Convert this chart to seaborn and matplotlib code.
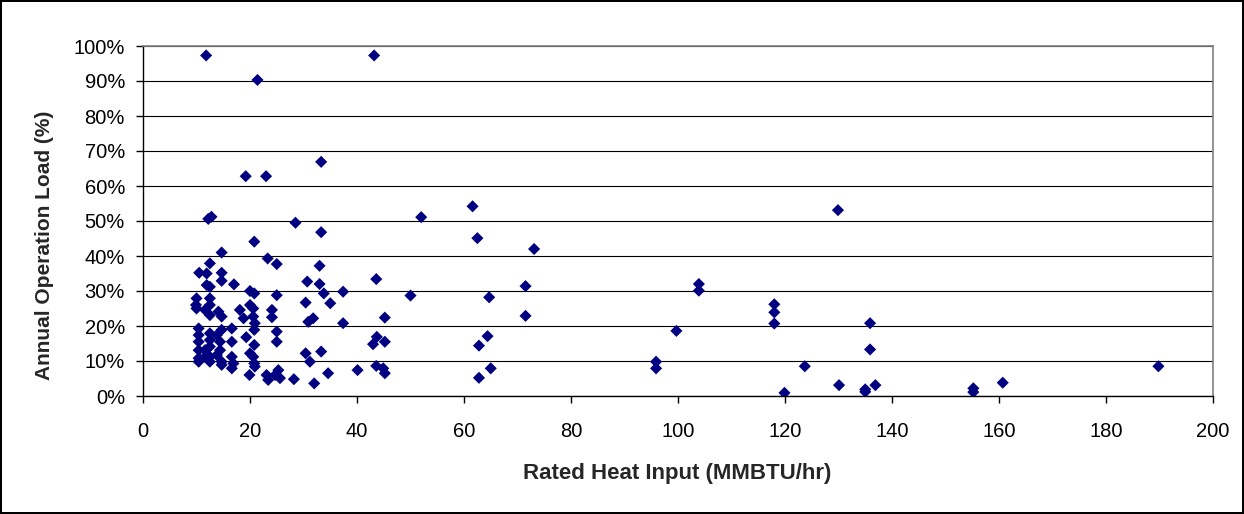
import pandas as pd
import seaborn as sns
import matplotlib.pyplot as plt
from matplotlib.ticker import PercentFormatter, MultipleLocator

# 额定热输入 (MMBTU/hr)
heat_input = [
    11.8, 21.4, 43.2, 19.2, 23.0, 33.3,
    12.2, 12.8, 28.5, 33.3, 20.8, 14.7, 23.3, 25.0, 33.0, 12.5, 10.5, 11.9,
    14.7, 14.7, 17.0, 11.9, 12.5, 30.7, 33.0, 33.8, 37.4, 35.0, 30.4, 20.0,
    20.8, 25.0, 10.0, 9.9, 10.0, 12.5, 12.5, 11.6, 12.5, 14.1, 14.7, 18.1,
    18.8, 20.0, 20.6, 20.6, 20.9, 24.1, 24.1, 30.9, 31.8, 37.4,
    10.4, 10.4, 10.4, 10.4, 10.4, 10.4, 12.5, 12.5, 12.5, 12.5, 12.5, 11.6,
    11.6, 13.8, 14.7, 14.4, 14.4, 13.8, 14.7, 14.7, 16.6, 16.6, 16.6, 16.9,
    16.6, 19.3, 20.8, 20.8, 20.0, 20.6, 20.8, 20.9, 25.0, 25.0, 19.9, 23.1,
    23.4, 24.7, 25.3, 25.6, 28.2, 30.4, 31.2, 33.3, 32.0, 34.6,
    52.0, 43.6, 50.0, 45.2, 43.7, 43.0, 45.2, 43.6, 44.9, 45.2, 40.1,
    61.6, 62.5, 73.1, 64.7, 71.5, 71.5, 64.4, 62.8, 65.0, 62.8, 95.9, 95.9,
    99.7, 103.9, 103.9, 118.0, 118.0, 118.0, 119.9, 123.7, 130.1, 135.0,
    135.0, 136.9, 135.9, 135.9, 129.9, 155.2, 155.2, 160.7, 189.8,
]

# 年运行负荷 (%)
operation_load = [
    97.3, 90.3, 97.3, 62.8, 62.8, 66.9,
    50.6, 51.2, 49.5, 46.8, 44.1, 41.0, 39.3, 37.7, 37.2, 37.9, 35.2, 35.0,
    35.2, 32.9, 31.9, 31.7, 31.2, 32.7, 32.0, 29.3, 29.8, 26.5, 26.7, 30.0,
    29.3, 28.8, 27.9, 26.0, 25.0, 27.9, 26.0, 24.6, 23.1, 24.1, 22.7, 24.6,
    22.2, 26.0, 25.0, 22.7, 20.8, 24.6, 22.5, 21.2, 22.2, 20.8,
    19.3, 17.4, 15.5, 13.1, 10.8, 9.8, 17.9, 16.0, 14.1, 11.2, 9.8, 13.1,
    11.2, 17.4, 18.9, 15.5, 13.1, 11.7, 9.8, 8.9, 19.3, 15.5, 11.2, 9.3,
    7.9, 16.8, 18.9, 14.6, 12.2, 11.2, 9.3, 8.4, 18.4, 15.5, 6.0, 6.0,
    4.6, 6.0, 7.4, 5.1, 4.8, 12.2, 9.8, 12.7, 3.6, 6.5,
    51.1, 33.4, 28.7, 22.4, 16.9, 14.8, 15.5, 8.6, 7.9, 6.5, 7.4,
    54.2, 45.1, 42.0, 28.2, 31.4, 22.9, 17.1, 14.4, 7.9, 5.2, 9.8, 7.9,
    18.6, 32.0, 30.1, 26.2, 23.9, 20.7, 0.9, 8.5, 3.1, 1.2,
    1.9, 3.1, 20.8, 13.3, 53.1, 2.2, 1.1, 3.8, 8.5,
]

df = pd.DataFrame({'heat': heat_input, 'load': operation_load})

sns.set_style('white')
plt.rcParams['font.family'] = ['Liberation Sans', 'DejaVu Sans']

fig = plt.figure(figsize=(12.44, 5.14), dpi=100)
fig.patch.set_edgecolor('black')
fig.patch.set_linewidth(1.5)
ax = fig.add_axes([143 / 1244, 118 / 514, 1070 / 1244, 350 / 514])

sns.scatterplot(data=df, x='heat', y='load', ax=ax, marker='D', s=38,
                color='#000080', edgecolor='none', linewidth=0, zorder=3)

ax.set_xlim(0, 200)
ax.set_ylim(0, 100)
ax.xaxis.set_major_locator(MultipleLocator(20))
ax.yaxis.set_major_locator(MultipleLocator(10))
ax.yaxis.set_major_formatter(PercentFormatter(decimals=0))
ax.set_xlabel('')
ax.set_ylabel('')

ax.grid(axis='y', color='black', linewidth=0.8)
ax.grid(axis='x', visible=False)
ax.set_axisbelow(True)

for side in ['top', 'right']:
    ax.spines[side].set_color('#808080')
    ax.spines[side].set_linewidth(1.2)
for side in ['left', 'bottom']:
    ax.spines[side].set_color('black')
    ax.spines[side].set_linewidth(1.0)

ax.tick_params(axis='both', which='major', direction='out', length=5,
               width=1, color='black', labelsize=14.5, labelcolor='black',
               bottom=True, left=True)
ax.tick_params(axis='x', pad=14)
ax.tick_params(axis='y', pad=8)

# 坐标轴标题 - 位置按像素放置
fig.text(677 / 1244, 1 - 473 / 514, 'Rated Heat Input (MMBTU/hr)',
         fontsize=16, fontweight='bold', ha='center', va='center')
fig.text(45 / 1244, 1 - 245 / 514, 'Annual Operation Load (%)',
         fontsize=15, fontweight='bold', ha='center', va='center',
         rotation=90)

fig.savefig('out.png', dpi=100, edgecolor=fig.get_edgecolor())
